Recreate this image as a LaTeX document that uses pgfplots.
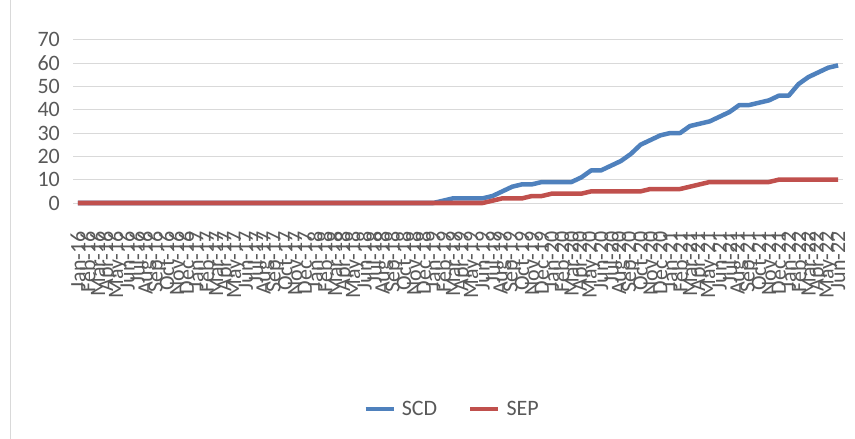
\documentclass[border=0pt]{standalone}
\usepackage{fontspec}
\setmainfont{Carlito}
\usepackage{pgfplots}
\usepackage{pgfplotstable}
\pgfplotsset{compat=1.18}
\definecolor{scd}{HTML}{4F81BD}
\definecolor{sep}{HTML}{C0504D}
\definecolor{txt}{HTML}{595959}
\definecolor{gridc}{HTML}{D9D9D9}

\pgfplotstableread{
i scd sep
0 0 0
1 0 0
2 0 0
3 0 0
4 0 0
5 0 0
6 0 0
7 0 0
8 0 0
9 0 0
10 0 0
11 0 0
12 0 0
13 0 0
14 0 0
15 0 0
16 0 0
17 0 0
18 0 0
19 0 0
20 0 0
21 0 0
22 0 0
23 0 0
24 0 0
25 0 0
26 0 0
27 0 0
28 0 0
29 0 0
30 0 0
31 0 0
32 0 0
33 0 0
34 0 0
35 0 0
36 0 0
37 1 0
38 2 0
39 2 0
40 2 0
41 2 0
42 3 1
43 5 2
44 7 2
45 8 2
46 8 3
47 9 3
48 9 4
49 9 4
50 9 4
51 11 4
52 14 5
53 14 5
54 16 5
55 18 5
56 21 5
57 25 5
58 27 6
59 29 6
60 30 6
61 30 6
62 33 7
63 34 8
64 35 9
65 37 9
66 39 9
67 42 9
68 42 9
69 43 9
70 44 9
71 46 10
72 46 10
73 51 10
74 54 10
75 56 10
76 58 10
77 59 10
}\data

\begin{document}
\begin{tikzpicture}
\useasboundingbox (0,0) rectangle (855bp,439bp);
\draw[gridc, line width=1bp] (10.5bp,0) -- (10.5bp,439bp);
\begin{axis}[
  at={(73bp,236bp)}, anchor=south west,
  scale only axis, width=770bp, height=163.3bp,
  xmin=-0.5, xmax=77.5, ymin=0, ymax=70,
  clip=false,
  axis x line*=bottom, axis y line*=left,
  x axis line style={draw=gridc, line width=1bp},
  y axis line style={draw=none},
  ytick={0,10,...,70},
  ytick style={draw=none},
  ymajorgrids=true,
  major grid style={draw=gridc, line width=1bp},
  xtick={0,...,77},
  xtick style={draw=none},
  extra x ticks={-0.5,0.5,1.5,2.5,3.5,4.5,5.5,6.5,7.5,8.5,9.5,10.5,11.5,12.5,13.5,14.5,15.5,16.5,17.5,18.5,19.5,20.5,21.5,22.5,23.5,24.5,25.5,26.5,27.5,28.5,29.5,30.5,31.5,32.5,33.5,34.5,35.5,36.5,37.5,38.5,39.5,40.5,41.5,42.5,43.5,44.5,45.5,46.5,47.5,48.5,49.5,50.5,51.5,52.5,53.5,54.5,55.5,56.5,57.5,58.5,59.5,60.5,61.5,62.5,63.5,64.5,65.5,66.5,67.5,68.5,69.5,70.5,71.5,72.5,73.5,74.5,75.5,76.5,77.5},
  extra x tick labels={},
  extra x tick style={major tick length=9bp, tick align=outside,
    tick style={draw=gridc, line width=1bp}, xmajorgrids=false},
  /pgf/number format/assume math mode=true,
  ticklabel style={font=\fontsize{22bp}{24bp}\selectfont, text=txt, inner sep=0pt},
  yticklabel style={anchor=east, xshift=-13bp},
  xticklabel style={rotate=90, anchor=east},
  xticklabel shift=28bp,
  xticklabels={Jan-16,Feb-16,Mar-16,Apr-16,May-16,Jun-16,Jul-16,Aug-16,Sep-16,Oct-16,Nov-16,Dec-16,
    Jan-17,Feb-17,Mar-17,Apr-17,May-17,Jun-17,Jul-17,Aug-17,Sep-17,Oct-17,Nov-17,Dec-17,
    Jan-18,Feb-18,Mar-18,Apr-18,May-18,Jun-18,Jul-18,Aug-18,Sep-18,Oct-18,Nov-18,Dec-18,
    Jan-19,Feb-19,Mar-19,Apr-19,May-19,Jun-19,Jul-19,Aug-19,Sep-19,Oct-19,Nov-19,Dec-19,
    Jan-20,Feb-20,Mar-20,Apr-20,May-20,Jun-20,Jul-20,Aug-20,Sep-20,Oct-20,Nov-20,Dec-20,
    Jan-21,Feb-21,Mar-21,Apr-21,May-21,Jun-21,Jul-21,Aug-21,Sep-21,Oct-21,Nov-21,Dec-21,
    Jan-22,Feb-22,Mar-22,Apr-22,May-22,Jun-22},
  legend columns=2,
  legend style={at={(0.491,-1.2615)}, anchor=center, draw=none, fill=none,
    font=\fontsize{22bp}{24bp}\selectfont, text=txt,
    nodes={inner sep=0pt},
    /tikz/column 1/.style={column sep=6bp},
    /tikz/column 2/.style={column sep=31bp},
    /tikz/column 3/.style={column sep=6bp}},
  legend image code/.code={\draw[#1] (0bp,0bp) -- (28bp,0bp);},
]
\addplot[scd, line width=4.5bp, line join=round] table[x=i, y=scd] {\data};
\addplot[sep, line width=4.5bp, line join=round] table[x=i, y=sep] {\data};
\legend{SCD,SEP}
\end{axis}
\end{tikzpicture}
\end{document}
